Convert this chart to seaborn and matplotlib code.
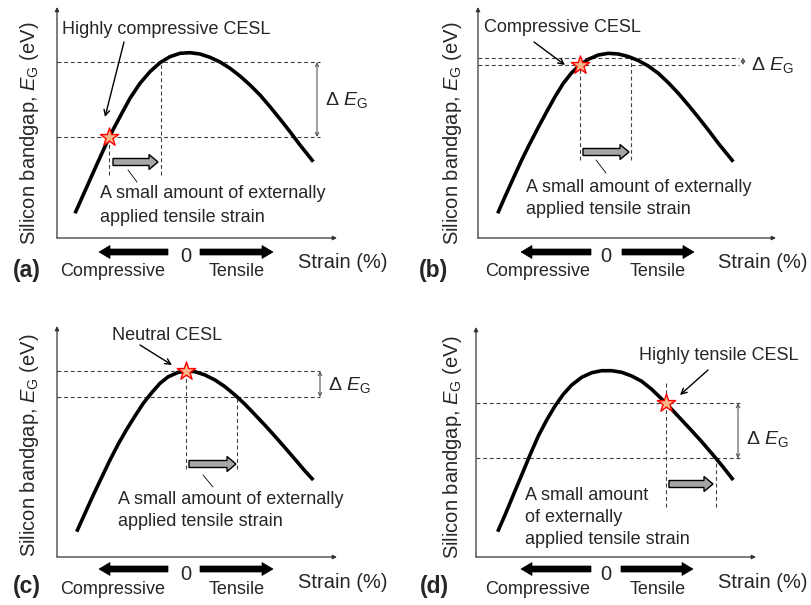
import numpy as np
import pandas as pd
import matplotlib
matplotlib.use("Agg")
import matplotlib.pyplot as plt
import matplotlib.patches as mpatches
import seaborn as sns

sns.set_theme(style="white")
plt.rcParams["font.family"] = ["Liberation Sans", "DejaVu Sans"]
plt.rcParams["mathtext.fontset"] = "custom"
plt.rcParams["mathtext.rm"] = "Liberation Sans"
plt.rcParams["mathtext.it"] = "Liberation Sans:italic"
plt.rcParams["mathtext.bf"] = "Liberation Sans:bold"

# Silicon band gap vs. strain, schematic curves (arbitrary units)
strain_a = [18, 28, 38, 46.3, 53, 63, 73, 83, 93, 103, 113, 123, 133, 143, 153, 163, 173,
            183, 193, 203, 213, 223, 233, 243, 256.3]
eg_a = [24.7, 47, 69.5, 87.8, 102.5, 121.3, 139.7, 154.7, 166.3, 175.3, 181.3, 184.7, 185.3,
        184, 180.7, 176, 169.7, 162, 153, 143, 131.3, 119, 106.3, 93, 76.3]

strain_b = [19.7, 27, 35.3, 43.7, 52, 60.3, 68.7, 77, 85.3, 93.7, 102, 110.3, 120.3, 130.3,
            140.3, 150.3, 160.3, 170.3, 180.3, 190.3, 200.3, 210.3, 220.3, 230.3, 240.3, 255.3]
eg_b = [24.7, 41.3, 59.7, 78, 94.7, 110.7, 126.3, 141.3, 154.7, 165.3, 173, 178.7, 183, 184.7,
        184, 181.5, 177.5, 172, 164.7, 155.3, 144.7, 133, 120.7, 108, 94.7, 76.3]

strain_c = [19.7, 28, 36.3, 44.7, 53, 61.3, 69.7, 78, 86.3, 94.7, 103, 111.3, 121.3, 129.7,
            138, 148, 158, 168, 178, 188, 198, 208, 218, 228, 238, 248, 256.3]
eg_c = [25.3, 43.7, 62, 79.7, 97, 113, 127.7, 141, 153.7, 164.3, 173.7, 180.3, 184.7, 186,
        185.3, 182, 177, 170.3, 162, 152.7, 142.3, 131.7, 120.7, 109.3, 97.7, 86, 77]

strain_d = [21.7, 29, 37.3, 45.7, 54, 62.3, 70.7, 79, 87.3, 95.7, 105.7, 115.7, 125.7, 135.7,
            145.7, 155.7, 165.7, 175.7, 185.7, 195.7, 205.7, 215.7, 225.7, 235.7, 245.7, 257.3]
eg_d = [25.3, 42, 62, 82, 102, 121, 137, 151, 162.7, 172, 179.7, 184.3, 186.3, 186.3, 184.7,
        181, 175.7, 167.7, 158, 147.7, 137, 126.3, 115.3, 103.7, 91.7, 77]

# CESL operating point and the point after the extra tensile strain
cesl_strain = [52.3, 102, 128.7, 189.7]
shifted_strain = [104, 153, 180.3, 240]

panel_tags = ["(a)", "(b)", "(c)", "(d)"]
cesl_labels = ["Highly compressive CESL", "Compressive CESL", "Neutral CESL", "Highly tensile CESL"]
note_lines = [
    ["A small amount of externally", "applied tensile strain"],
    ["A small amount of externally", "applied tensile strain"],
    ["A small amount of externally", "applied tensile strain"],
    ["A small amount", "of externally", "applied tensile strain"],
]

curves = [(strain_a, eg_a), (strain_b, eg_b), (strain_c, eg_c), (strain_d, eg_d)]

W_PX, H_PX = 812, 605
fig = plt.figure(figsize=(W_PX / 100, H_PX / 100), dpi=100)
fig.patch.set_facecolor("white")

# axes frames in pixels: (origin x, origin y from top, width, height)
frames = [(57, 238, 280, 231), (478, 238, 298, 231), (57, 557, 280, 231), (476, 557, 280, 230)]

layout = [
    dict(hx=263, vbot=63, vtop=None, gray=(56, 101, 76), leader=((71, 68), (80, 56)), dex=260,
         del_=(268, 138), cl=(5, 208), carrow=((67, 196), (48, 121)), note=(43, [45, 21]),
         zero=(129, -19), ay=-14, la=(111, 42), ra=(143, 216), sx=331, tag=(-30, -32),
         comp=56, tens=180, by=-34, ylab=(-27, 105)),
    dict(hx=261, vbot=78, vtop=None, gray=(105, 151, 86), leader=((118, 78), (128, 65)), dex=265,
         del_=(273, 173), cl=(6, 210), carrow=((56, 196), (87, 173)), note=(48, [50, 28]),
         zero=(128, -19), ay=-14, la=(113, 43), ra=(144, 216), sx=330, tag=(-44, -32),
         comp=60, tens=180, by=-34, ylab=(-25, 105)),
    dict(hx=263, vbot=88, vtop=None, gray=(132, 179, 93), leader=((146, 82), (156, 70)), dex=263,
         del_=(271, 172), cl=(55, 222), carrow=((83, 212), (115, 192)), note=(61, [57, 35]),
         zero=(129, -17), ay=-12, la=(111, 42), ra=(143, 216), sx=331, tag=(-30, -30),
         comp=56, tens=180, by=-33, ylab=(-27, 112)),
    dict(hx=265, vbot=50, vtop=173.7, gray=(193, 237, 73), leader=None, dex=262,
         del_=(270, 118), cl=(163, 202), carrow=((232, 187), (204, 162)), note=(49, [62, 39, 17]),
         zero=(130, -17), ay=-12, la=(115, 45), ra=(145, 217), sx=332, tag=(-42, -30),
         comp=62, tens=182, by=-33, ylab=(-23, 110)),
]

dash_kw = dict(color="#404040", lw=0.8, ls=(0, (3.5, 2.5)), zorder=1)
FS = 13

for i, ((x0, y0, w, h), (xs, ys), L) in enumerate(zip(frames, curves, layout)):
    ax = fig.add_axes([x0 / W_PX, (H_PX - y0) / H_PX, w / W_PX, h / H_PX])
    df = pd.DataFrame({"strain": xs, "eg": ys})
    sns.lineplot(data=df, x="strain", y="eg", ax=ax, color="black", lw=2.6,
                 sort=False, zorder=3, legend=False)
    for ln in ax.lines:
        ln.set_solid_joinstyle("round")
        ln.set_solid_capstyle("butt")

    e_star = float(np.interp(cesl_strain[i], xs, ys))
    e_shift = float(np.interp(shifted_strain[i], xs, ys))

    # reference levels and strain markers
    ax.plot([0, L["hx"]], [e_star, e_star], **dash_kw)
    ax.plot([0, L["hx"]], [e_shift, e_shift], **dash_kw)
    vtop = L["vtop"] if L["vtop"] is not None else e_star
    ax.plot([cesl_strain[i], cesl_strain[i]], [L["vbot"], vtop], **dash_kw)
    ax.plot([shifted_strain[i], shifted_strain[i]], [L["vbot"], e_shift], **dash_kw)

    sns.scatterplot(x=[cesl_strain[i]], y=[e_star], ax=ax, marker="*", s=190,
                    color="#f7b98a", edgecolor="red", linewidth=1.0, zorder=5, legend=False)

    # axes with arrow tips
    for tip in ((w, 0), (0, h)):
        ax.annotate("", xy=tip, xytext=(0, 0),
                    arrowprops=dict(arrowstyle="-|>", lw=0.9, color="#333333", mutation_scale=6,
                                    shrinkA=0, shrinkB=0), annotation_clip=False)

    # delta E_G double arrow
    ax.annotate("", xy=(L["dex"], e_shift), xytext=(L["dex"], e_star),
                arrowprops=dict(arrowstyle="<->", lw=0.8, color="#555555", mutation_scale=6,
                                shrinkA=0, shrinkB=0), annotation_clip=False)
    ax.text(L["del_"][0], L["del_"][1], r"Δ $\mathit{E}_{\mathrm{G}}$", fontsize=14,
            ha="left", va="center", clip_on=False)

    # gray strain arrow
    gx0, gx1, gy = L["gray"]
    ax.add_patch(mpatches.FancyArrow(gx0, gy, gx1 - gx0, 0, width=7, head_width=15,
                                     head_length=9, length_includes_head=True,
                                     fc="#a6a6a6", ec="black", lw=1.0, zorder=4, clip_on=False))
    if L["leader"] is not None:
        (lx0, ly0), (lx1, ly1) = L["leader"]
        ax.plot([lx0, lx1], [ly0, ly1], color="black", lw=0.6, zorder=2)

    nx, nys = L["note"]
    for txt, ny in zip(note_lines[i], nys):
        ax.text(nx, ny, txt, fontsize=FS, ha="left", va="center", clip_on=False)

    # CESL label with pointer
    ax.text(L["cl"][0], L["cl"][1], cesl_labels[i], fontsize=FS, ha="left", va="center",
            clip_on=False)
    ax.annotate("", xy=L["carrow"][1], xytext=L["carrow"][0],
                arrowprops=dict(arrowstyle="->", lw=1.0, color="black", mutation_scale=10,
                                shrinkA=0, shrinkB=0), annotation_clip=False)

    # strain direction legend under the axis
    ax.text(L["zero"][0], L["zero"][1], "0", fontsize=14.5, ha="center", va="center",
            clip_on=False)
    for a0, a1 in (L["la"], L["ra"]):
        ax.add_patch(mpatches.FancyArrow(a0, L["ay"], a1 - a0, 0, width=6, head_width=13,
                                         head_length=11, length_includes_head=True,
                                         fc="black", ec="black", lw=0.5, clip_on=False))
    ax.text(L["sx"], -25, "Strain (%)", fontsize=14.5, ha="right", va="center", clip_on=False)
    ax.text(L["comp"], L["by"], "Compressive", fontsize=FS, ha="center", va="center",
            clip_on=False)
    ax.text(L["tens"], L["by"], "Tensile", fontsize=FS, ha="center", va="center", clip_on=False)
    ax.text(L["tag"][0], L["tag"][1], panel_tags[i], fontsize=16.5, fontweight="bold",
            ha="center", va="center", clip_on=False)
    ax.text(L["ylab"][0], L["ylab"][1], r"Silicon bandgap, $\mathit{E}_{\mathrm{G}}$ (eV)",
            fontsize=14.5, rotation=90, ha="center", va="center", clip_on=False)

    ax.set_xlim(0, w)
    ax.set_ylim(0, h)
    ax.set_xlabel("")
    ax.set_ylabel("")
    ax.axis("off")

fig.savefig("out.png", dpi=100, facecolor="white")
